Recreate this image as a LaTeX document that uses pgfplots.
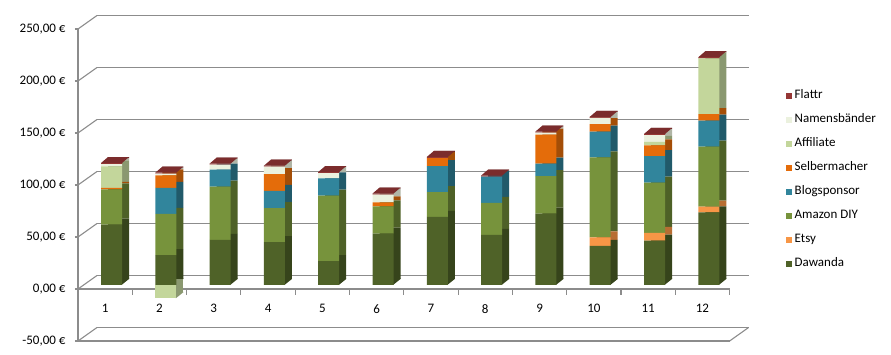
\documentclass[border=0pt]{standalone}
\usepackage{pgfplots}
\pgfplotsset{compat=1.18}
\usepackage{pgfplotstable}
\usepackage{fontspec}
\setmainfont{Carlito}

\definecolor{cDaw}{HTML}{4F6228}
\definecolor{cEts}{HTML}{F79646}
\definecolor{cAma}{HTML}{77933C}
\definecolor{cBlo}{HTML}{31859C}
\definecolor{cSel}{HTML}{E46C0A}
\definecolor{cAff}{HTML}{C3D69B}
\definecolor{cNam}{HTML}{EBF1DE}
\definecolor{cFla}{HTML}{953735}
\definecolor{sDaw}{HTML}{36441B}
\definecolor{sEts}{HTML}{B86E33}
\definecolor{sAma}{HTML}{4E6127}
\definecolor{sBlo}{HTML}{215A6A}
\definecolor{sSel}{HTML}{A44E07}
\definecolor{sAff}{HTML}{8A9870}
\definecolor{sNam}{HTML}{B0B5A6}
\definecolor{sFla}{HTML}{6A2725}
\definecolor{tFla}{HTML}{7B2C2C}
\definecolor{gridc}{HTML}{8C8C8C}

\pgfplotstableread{
m Daw Ets Ama Blo Sel Aff Nam Fla
1 58.0 0 34.0 0 1.5 20.6 2.2 1.0
2 28.8 0 39.5 25.0 12.2 0 1.5 1.0
3 43.3 0 51.2 16.4 0 0 4.8 1.0
4 41.3 0 32.7 16.4 16.3 0 7.0 1.0
5 23.0 0 62.9 16.7 0 0 5.0 1.0
6 49.4 0 26.3 0 3.8 0 7.4 1.0
7 65.4 0 24.0 25.0 7.7 0 0 1.0
8 48.1 0 30.8 25.3 0 0 0 1.0
9 68.6 0 36.2 11.9 27.9 0 1.9 1.0
10 37.5 8.3 77.0 24.7 7.3 0 5.8 1.0
11 42.6 7.4 48.4 25.6 10.3 3.2 6.7 1.0
12 69.9 5.4 57.7 25.0 6.4 53.6 0 1.0
}\earn
\pgfplotstableread{
m Aff
2 -12.8
}\earnneg

% top face of a bar
\pgfdeclareplotmark{cap}{%
  \pgfpathmoveto{\pgfqpoint{-10.5pt}{0pt}}%
  \pgfpathlineto{\pgfqpoint{10.5pt}{0pt}}%
  \pgfpathlineto{\pgfqpoint{17.5pt}{6pt}}%
  \pgfpathlineto{\pgfqpoint{-3.5pt}{6pt}}%
  \pgfpathclose
  \pgfusepathqfill}
% lower corner of the side face
\pgfdeclareplotmark{foot}{%
  \pgfpathmoveto{\pgfqpoint{10pt}{0pt}}%
  \pgfpathlineto{\pgfqpoint{17.5pt}{6pt}}%
  \pgfpathlineto{\pgfqpoint{17.5pt}{6.5pt}}%
  \pgfpathlineto{\pgfqpoint{10pt}{6.5pt}}%
  \pgfpathclose
  \pgfusepathqfill}

\newcommand{\lblfont}{\fontsize{13}{15}\selectfont}

\pgfplotsset{
  base/.style={scale only axis, width=651.6pt, height=312pt,
    xmin=0.5, xmax=12.5, ymin=-50, ymax=250, anchor=south west},
  hidden/.style={axis lines=none, ticks=none},
}

\begin{document}
\begin{tikzpicture}
\path[use as bounding box] (0pt,0pt) rectangle (891pt,355pt);

% back wall
\begin{axis}[base, at={(97pt,27.5pt)},
  axis line style={draw=none}, tick style={draw=none},
  xtick=\empty, ytick={-50,0,...,250}, yticklabels={},
  ymajorgrids, grid style={gridc, line width=1.1pt}]
\end{axis}

% front plane: y axis, bottom edge, diagonals
\begin{axis}[base, at={(78pt,14pt)},
  axis x line*=bottom, axis y line*=left,
  every outer x axis line/.append style={-},
  every outer y axis line/.append style={-},
  axis line style={-, gridc, line width=1.1pt},
  xtick=\empty, ytick={-50,0,...,250},
  yticklabels={{-50,00 €},{0,00 €},{50,00 €},{100,00 €},{150,00 €},{200,00 €},{250,00 €}},
  tick align=outside, major tick length=3pt,
  tick style={gridc, line width=1.1pt},
  yticklabel style={font=\lblfont, text=black, xshift=-6pt},
  clip=false]
\pgfplotsinvokeforeach{-50,0,50,100,150,200,250}{%
  \draw[gridc, line width=1.1pt] (axis cs:0.5,#1) -- ++(19pt,13.5pt);}
\draw[gridc, line width=1.1pt] (axis cs:12.5,-50) -- ++(19pt,13.5pt);
\end{axis}

% category axis at zero
\begin{axis}[scale only axis, width=651.6pt, height=10pt, at={(78pt,66pt)},
  anchor=south west, xmin=0.5, xmax=12.5, ymin=0, ymax=1,
  axis y line=none, axis x line*=bottom,
  every outer x axis line/.append style={-},
  axis line style={-, gridc, line width=1.1pt},
  xtick={1,2,3,4,5,6,7,8,9,10,11,12},
  xticklabels={1,2,3,4,5,6,7,8,9,10,11,12},
  major tick length=0pt,
  extra x ticks={0.5,1.5,2.5,3.5,4.5,5.5,6.5,7.5,8.5,9.5,10.5,11.5,12.5},
  extra x tick labels={},
  extra x tick style={major tick length=6pt, tick align=outside,
    tick style={gridc, line width=1.1pt}},
  xticklabel style={font=\lblfont, text=black, yshift=-12pt}]
\end{axis}

% lower corners of the side faces
\begin{axis}[base, hidden, at={(84.35pt,18pt)}, clip=false]
\addplot[only marks, mark=foot, color=sDaw] table[x=m, y expr=0]{\earn};
\addplot[only marks, mark=foot, color=sAff] table[x=m, y=Aff]{\earnneg};
\end{axis}

% side faces (negative part)
\begin{axis}[base, hidden, at={(91.35pt,24pt)}, ybar, bar width=21pt]
\addplot[fill=sAff, draw=none] table[x=m, y=Aff]{\earnneg};
\end{axis}

% side faces
\begin{axis}[base, hidden, at={(91.35pt,24pt)}, ybar stacked, bar width=21pt]
\addplot[fill=sDaw, draw=none] table[x=m, y=Daw]{\earn};
\addplot[fill=sEts, draw=none] table[x=m, y=Ets]{\earn};
\addplot[fill=sAma, draw=none] table[x=m, y=Ama]{\earn};
\addplot[fill=sBlo, draw=none] table[x=m, y=Blo]{\earn};
\addplot[fill=sSel, draw=none] table[x=m, y=Sel]{\earn};
\addplot[fill=sAff, draw=none] table[x=m, y=Aff]{\earn};
\addplot[fill=sNam, draw=none] table[x=m, y=Nam]{\earn};
\addplot[fill=sFla, draw=none] table[x=m, y=Fla]{\earn};
\end{axis}

% front faces (negative part)
\begin{axis}[base, hidden, at={(84.35pt,18pt)}, ybar, bar width=21pt]
\addplot[fill=cAff, draw=none] table[x=m, y=Aff]{\earnneg};
\end{axis}

% front faces with legend
\begin{axis}[base, hidden, at={(84.35pt,18pt)}, ybar stacked, bar width=21pt,
  every axis plot post/.append style={
    legend image code/.code={\fill[##1] (0pt,-3pt) rectangle (6pt,3pt);}},
  reverse legend,
  legend cell align=left,
  legend style={draw=none, fill=none, font=\lblfont, text=black,
    at={(1.0722,0.801)}, anchor=north west,
    row sep=11.5pt, column sep=2.5pt,
    nodes={inner sep=0pt, text height=9.5pt, text depth=3pt}}]
\addplot[fill=cDaw, draw=none] table[x=m, y=Daw]{\earn};
\addlegendentry{Dawanda}
\addplot[fill=cEts, draw=none] table[x=m, y=Ets]{\earn};
\addlegendentry{Etsy}
\addplot[fill=cAma, draw=none] table[x=m, y=Ama]{\earn};
\addlegendentry{Amazon DIY}
\addplot[fill=cBlo, draw=none] table[x=m, y=Blo]{\earn};
\addlegendentry{Blogsponsor}
\addplot[fill=cSel, draw=none] table[x=m, y=Sel]{\earn};
\addlegendentry{Selbermacher}
\addplot[fill=cAff, draw=none] table[x=m, y=Aff]{\earn};
\addlegendentry{Affiliate}
\addplot[fill=cNam, draw=none] table[x=m, y=Nam]{\earn};
\addlegendentry{Namensbänder}
\addplot[fill=cFla, draw=none] table[x=m, y=Fla]{\earn};
\addlegendentry{Flattr}
\end{axis}

% top faces
\begin{axis}[base, hidden, at={(84.35pt,18pt)}, clip=false]
\addplot[only marks, mark=cap, color=tFla]
  table[x=m, y expr=\thisrow{Daw}+\thisrow{Ets}+\thisrow{Ama}+\thisrow{Blo}+\thisrow{Sel}+\thisrow{Aff}+\thisrow{Nam}+\thisrow{Fla}]{\earn};
\end{axis}
\end{tikzpicture}
\end{document}
